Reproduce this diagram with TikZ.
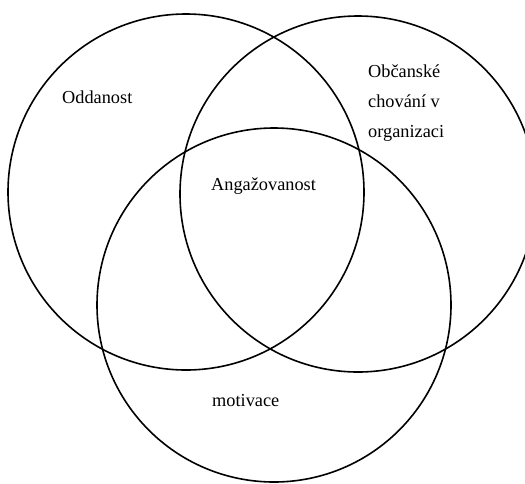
\documentclass[tikz,border=0pt]{standalone}
\usepackage{fontspec}
\setmainfont{Liberation Serif}
\usepackage{tikz}
\usetikzlibrary{shapes}

\tikzset{
	ring/.style={draw,circle,line width=1.6pt,inner sep=0pt,outer sep=0pt},
	lbl/.style={anchor=west,inner sep=0pt,align=left,font=\fontsize{18.3}{30}\selectfont}
}

\begin{document}
\begin{tikzpicture}[x=1pt,y=-1pt]
		\useasboundingbox (0,0) rectangle (525,483);
		\clip (0,0) rectangle (525,483);
		%
		% circles
		\node[ring,minimum size=356pt] (Odd) at (186,192) {};
		\node[ring,minimum size=356pt] (Obc) at (358,194) {};
		\node[ring,minimum size=354pt] (Mot) at (274,305) {};
		%
		% labels
		\node[lbl] (OddL) at (62,97) {Oddanost};
		\node[lbl] (ObcL) at (368,103) {Občanské\\chování v\\organizaci};
		\node[lbl] (AngL) at (211,186) {Angažovanost};
		\node[lbl] (MotL) at (212,401) {motivace};
	\end{tikzpicture}
\end{document}
